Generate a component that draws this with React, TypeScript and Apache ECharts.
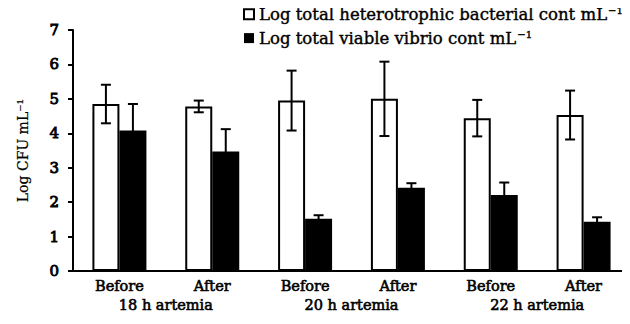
import React, { useEffect, useRef } from "react";
import * as echarts from "echarts";

const categories = ["Before", "After", "Before", "After", "Before", "After"];
const groups = ["18 h artemia", "20 h artemia", "22 h artemia"];
const heteroMean = [4.85, 4.78, 4.95, 5.0, 4.44, 4.53];
const heteroErr = [0.56, 0.17, 0.87, 1.08, 0.53, 0.71];
const vibrioMean = [4.08, 3.47, 1.52, 2.42, 2.21, 1.43];
const vibrioErr = [0.77, 0.65, 0.1, 0.13, 0.36, 0.13];
const yTicks = [0, 1, 2, 3, 4, 5, 6, 7];

const FONT = "'DejaVu Serif', serif";
const BAR_W = 27;
const heavy = { textBorderColor: "#000", textBorderWidth: 0.6 };

export default function App() {
  const ref = useRef<HTMLDivElement>(null);
  useEffect(() => {
    if (!ref.current) return;
    const chart = echarts.init(ref.current, undefined, { renderer: "svg" });
    const errData = (means: number[], errs: number[], off: number) =>
      means.map((m, i) => [i, m, errs[i], off]);
    const renderErr = (params: any, api: any) => {
      const x = api.value(0);
      const m = api.value(1);
      const e = api.value(2);
      const off = api.value(3);
      const hi = api.coord([x, m + e]);
      const lo = api.coord([x, m - e]);
      const cx = hi[0] + off;
      const cap = 5;
      const st = { stroke: "#000", lineWidth: 2 };
      return {
        type: "group",
        children: [
          { type: "line", shape: { x1: cx, y1: hi[1], x2: cx, y2: lo[1] }, style: st },
          { type: "line", shape: { x1: cx - cap, y1: hi[1], x2: cx + cap, y2: hi[1] }, style: st },
          { type: "line", shape: { x1: cx - cap, y1: lo[1], x2: cx + cap, y2: lo[1] }, style: st },
        ],
      };
    };
    const legendRich = {
      a: { fontFamily: FONT, fontSize: 16.5, color: "#000", textBorderColor: "#000", textBorderWidth: 0.4 },
      s: { fontFamily: FONT, fontSize: 10, color: "#000", verticalAlign: "top", padding: [0, 0, 8, 1], textBorderColor: "#000", textBorderWidth: 0.4 },
    };
    const lbl = { color: "#000", fontFamily: FONT, fontSize: 14.5, ...heavy };
    chart.setOption({
      animation: false,
      textStyle: { fontFamily: FONT },
      legend: {
        orient: "vertical",
        left: 238,
        top: 0,
        itemWidth: 10,
        itemHeight: 10,
        itemGap: 6,
        icon: "rect",
        data: ["Log total heterotrophic bacterial cont mL", "Log total viable vibrio cont mL"],
        formatter: (n: string) => `{a|${n}}{s|−1}`,
        textStyle: { rich: legendRich, fontFamily: FONT, fontSize: 16.5, color: "#000" },
      },
      grid: { left: 73, top: 30, width: 558, height: 241, containLabel: false },
      xAxis: [
        {
          type: "category",
          data: categories,
          axisLine: { lineStyle: { color: "#000", width: 2 } },
          axisTick: { lineStyle: { color: "#000", width: 2 }, length: 5 },
          axisLabel: { ...lbl, margin: 7 },
        },
        {
          type: "category",
          data: groups,
          position: "bottom",
          axisLine: { show: false },
          axisTick: { show: false },
          axisLabel: { ...lbl, margin: 26 },
        },
      ],
      yAxis: {
        type: "value",
        min: 0,
        max: 7,
        interval: 1,
        name: "Log CFU mL⁻¹",
        nameLocation: "middle",
        nameRotate: 90,
        nameGap: 43,
        nameTextStyle: { color: "#000", fontFamily: FONT, fontSize: 14, textBorderColor: "#000", textBorderWidth: 0.2 },
        axisLine: { show: true, lineStyle: { color: "#000", width: 2 } },
        axisTick: { show: true, length: 5, lineStyle: { color: "#000", width: 2 } },
        splitLine: { show: false },
        axisLabel: {
          ...lbl,
          fontSize: 15,
          margin: 14,
          textBorderWidth: 0.9,
          formatter: (v: number) => (yTicks.includes(v) ? String(v) : ""),
        },
      },
      series: [
        {
          name: "Log total heterotrophic bacterial cont mL",
          type: "bar",
          data: heteroMean,
          barWidth: BAR_W,
          barGap: "0%",
          itemStyle: { color: "#fff", borderColor: "#000", borderWidth: 2 },
        },
        {
          name: "Log total viable vibrio cont mL",
          type: "bar",
          data: vibrioMean,
          barWidth: BAR_W,
          barGap: "0%",
          itemStyle: { color: "#000" },
        },
        {
          type: "custom",
          data: errData(heteroMean, heteroErr, -BAR_W / 2),
          encode: { x: 0, y: 1 },
          renderItem: renderErr,
          z: 5,
        },
        {
          type: "custom",
          data: errData(vibrioMean, vibrioErr, BAR_W / 2),
          encode: { x: 0, y: 1 },
          renderItem: renderErr,
          z: 1,
        },
      ],
    });
    return () => chart.dispose();
  }, []);
  return <div ref={ref} style={{ width: 630, height: 324, margin: -8 }} />;
}
